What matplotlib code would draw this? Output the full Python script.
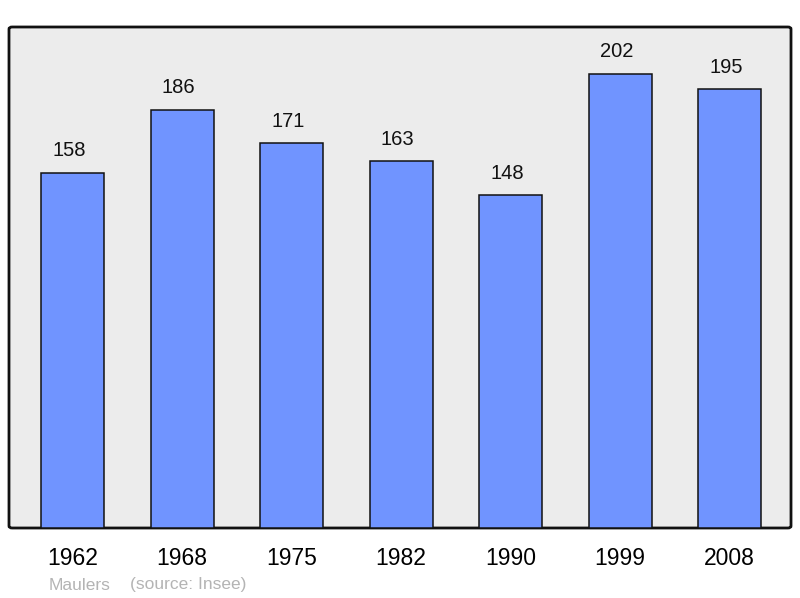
import matplotlib.pyplot as plt
from matplotlib.patches import FancyBboxPatch

# donnees
annees = ['1962', '1968', '1975', '1982', '1990', '1999', '2008']
population = [158, 186, 171, 163, 148, 202, 195]
commune = 'Maulers'
source = '(source: Insee)'

plt.rcParams['font.family'] = ['Liberation Sans', 'DejaVu Sans']

fig = plt.figure(figsize=(8, 5.98), dpi=100)
ax = fig.add_axes([9/800, 70/598, 782/800, 501/598])
ax.set_facecolor('none')

# cadre arrondi
cadre = FancyBboxPatch((0, 0), 1, 1, boxstyle='round,pad=0,rounding_size=0.004',
                       transform=ax.transAxes, facecolor='#ececec',
                       edgecolor='#111111', linewidth=2, zorder=0, clip_on=False)
ax.add_patch(cadre)

x = range(len(annees))
ax.bar(x, population, width=0.575, color='#7094ff', edgecolor='#111111',
       linewidth=1.1, zorder=2)

# valeurs au-dessus des barres
for i, v in enumerate(population):
    ax.annotate(str(v), (i, v), xytext=(-2.5, 9), textcoords='offset points',
                ha='center', va='bottom', fontsize=14.5, color='#111111')

ax.set_xlim(-0.58, 6.56)
ax.set_ylim(0, 222.7)
ax.set_xticks(list(x))
ax.set_xticklabels(annees, fontsize=16.5)
ax.tick_params(axis='x', length=0, pad=14)
ax.set_yticks([])
for s in ax.spines.values():
    s.set_visible(False)

fig.text(49/800, 1 - 585/598, commune, fontsize=12.5, color='#b4b4b4', va='center')
fig.text(130/800, 1 - 585/598, source, fontsize=12.5, color='#b4b4b4', va='center')

fig.savefig('out.png', dpi=100)
